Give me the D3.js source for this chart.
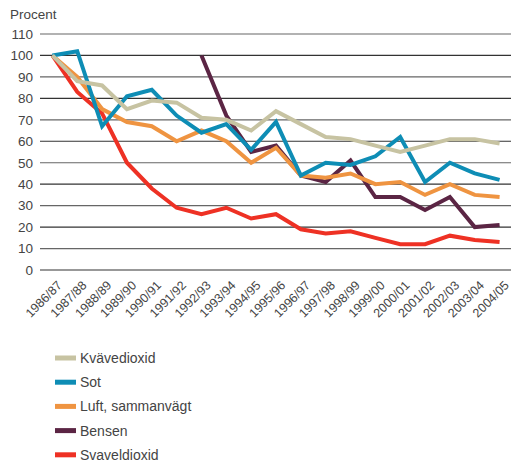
<!DOCTYPE html>
<html>
<head>
<meta charset="utf-8">
<script src="https://cdn.jsdelivr.net/npm/d3@7"></script>
<style>
  body { margin: 0; background: #fff; }
  svg text { font-family: "Liberation Sans", Arial, sans-serif; fill: #444; }
</style>
</head>
<body>
<div id="chart"></div>
<script>
const years = ['1986/87', '1987/88', '1988/89', '1989/90', '1990/91', '1991/92', '1992/93',
  '1993/94', '1994/95', '1995/96', '1996/97', '1997/98', '1998/99', '1999/00', '2000/01',
  '2001/02', '2002/03', '2003/04', '2004/05'];
const yTicks = [0, 10, 20, 30, 40, 50, 60, 70, 80, 90, 100, 110];

const kvavedioxid = [100, 88, 86, 75, 79, 78, 71, 70, 65, 74, 68, 62, 61, 58, 55, 58, 61, 61, 59];
const sot = [100, 102, 67, 81, 84, 72, 64, 68, 56, 69, 44, 50, 49, 53, 62, 41, 50, 45, 42];
const luft = [100, 90, 75, 69, 67, 60, 65, 60, 50, 57, 44, 43, 45, 40, 41, 35, 40, 35, 34];
const bensen = [null, null, null, null, null, null, 100, 72, 55, 58, 44, 41, 51, 34, 34, 28, 34, 20, 21];
const svaveldioxid = [100, 83, 73, 50, 38, 29, 26, 29, 24, 26, 19, 17, 18, 15, 12, 12, 16, 14, 13];

const seriesNames = ['Kvävedioxid', 'Sot', 'Luft, sammanvägt', 'Bensen', 'Svaveldioxid'];
const seriesValues = [kvavedioxid, sot, luft, bensen, svaveldioxid];
const colors = ['#c7c3a2', '#0e8db5', '#ef9441', '#5b2544', '#ee3124'];
// drawing order: red first, beige on top of blue etc.
const drawOrder = [4, 3, 2, 1, 0];

const width = 511, height = 463;
const plotLeft = 40, plotRight = 512, plotTop = 34, plotBottom = 270;

const svg = d3.select('#chart').append('svg')
  .attr('width', width).attr('height', height);

const x = d3.scalePoint().domain(years).range([plotLeft, plotRight]).padding(0.5);
const y = d3.scaleLinear().domain([0, 110]).range([plotBottom, plotTop]);

// gridlines
svg.append('g').selectAll('line').data(yTicks).enter().append('line')
  .attr('x1', plotLeft).attr('x2', plotRight)
  .attr('y1', d => y(d)).attr('y2', d => y(d))
  .attr('stroke', (d, i) => (i % 2 ? '#666' : '#333')).attr('stroke-width', 1.2);

// y labels
svg.append('g').selectAll('text').data(yTicks).enter().append('text')
  .attr('x', 33).attr('y', d => y(d)).attr('dy', '0.36em')
  .attr('text-anchor', 'end').attr('font-size', 13.5).text(d => d);

svg.append('text').attr('x', 10).attr('y', 19).attr('font-size', 13.5).text('Procent');

// x labels
svg.append('g').selectAll('text').data(years).enter().append('text')
  .attr('text-anchor', 'end').attr('font-size', 12.5)
  .attr('transform', d => `translate(${x(d) + 4},${plotBottom + 10}) rotate(-45)`)
  .attr('dy', '0.7em')
  .text(d => d);

// lines
const line = d3.line()
  .defined(d => d != null)
  .x((d, i) => x(years[i]))
  .y(d => y(d));

svg.append('g').selectAll('path').data(drawOrder).enter().append('path')
  .attr('d', i => line(seriesValues[i]))
  .attr('fill', 'none')
  .attr('stroke', i => colors[i])
  .attr('stroke-width', 4)
  .attr('stroke-linejoin', 'miter');

// legend
const legend = svg.append('g').selectAll('g').data(seriesNames).enter().append('g')
  .attr('transform', (d, i) => `translate(55,${358 + i * 24.2})`);
legend.append('rect').attr('x', 0).attr('y', -2.5).attr('width', 21).attr('height', 5)
  .attr('fill', (d, i) => colors[i]);
legend.append('text').attr('x', 25).attr('dy', '0.36em').attr('font-size', 14).text(d => d);
</script>
</body>
</html>
